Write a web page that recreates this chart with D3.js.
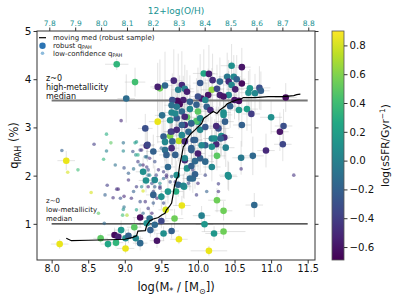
<!DOCTYPE html>
<html>
<head>
<meta charset="utf-8">
<script src="https://cdn.jsdelivr.net/npm/d3@7"></script>
<style>
  body { margin: 0; background: #fff; }
  text { font-family: "DejaVu Sans", sans-serif; }
</style>
</head>
<body>
<div id="c"></div>
<script>
// robust q_PAH points: [logM, qPAH, log sSFR, xerr, yerr]
var robust = [
[8.89,4.31,0.35,0.16,0.12],[9.14,3.94,0.42,0.14,0.30],[9.02,3.60,-0.13,0.12,0.50],[9.28,2.98,-0.30,0.10,0.30],
[9.45,3.12,0.85,0.12,0.45],[9.51,3.25,-0.10,0.10,0.50],[9.48,3.81,0.55,0.10,0.60],[9.45,3.84,-0.55,0.10,0.50],
[9.55,3.87,-0.15,0.10,0.70],[9.30,2.62,-0.50,0.10,0.30],[8.20,2.31,0.85,0.12,0.20],[9.67,3.97,-0.50,0.12,0.65],
[9.78,3.88,-0.50,0.10,0.70],[9.82,3.80,0.00,0.12,0.50],[9.85,3.74,-0.55,0.10,0.45],[9.73,3.78,0.00,0.10,0.75],
[10.08,4.12,0.25,0.15,0.50],[10.15,4.11,-0.55,0.12,0.60],[10.20,3.98,-0.50,0.10,0.55],[10.30,3.95,-0.15,0.12,0.50],
[10.03,3.92,-0.25,0.10,0.60],[10.19,3.78,0.65,0.15,0.45],[10.26,3.80,-0.35,0.10,0.50],[10.30,3.67,-0.55,0.12,0.40],
[10.14,3.67,-0.60,0.10,0.55],[10.05,3.60,-0.60,0.12,0.50],[10.10,3.57,0.05,0.10,0.45],[10.00,3.64,-0.30,0.10,0.60],
[9.89,3.53,-0.20,0.12,0.55],[9.80,3.57,-0.55,0.10,0.50],[9.72,3.55,-0.65,0.10,0.45],[9.75,3.48,-0.65,0.12,0.60],
[9.65,3.57,-0.30,0.10,0.55],[9.71,3.43,-0.05,0.10,0.50],[9.64,3.31,0.05,0.12,0.45],[9.78,3.33,-0.15,0.10,0.60],
[9.89,3.38,0.05,0.12,0.50],[9.98,3.47,-0.20,0.10,0.55],[10.00,3.33,0.50,0.12,0.45],[10.12,3.43,-0.20,0.10,0.50],
[10.17,3.36,-0.50,0.12,0.40],[9.62,3.15,0.10,0.10,0.50],[9.71,3.19,-0.25,0.10,0.45],[9.85,3.21,0.50,0.12,0.55],
[9.91,3.09,0.15,0.10,0.50],[9.82,3.05,-0.50,0.12,0.45],[10.00,3.12,0.10,0.10,0.50],[10.03,2.95,0.05,0.10,0.40],
[10.28,2.98,-0.30,0.15,0.45],[9.64,2.91,-0.50,0.10,0.50],[9.53,2.81,-0.20,0.10,0.45],[9.62,2.82,0.60,0.10,0.40],
[9.74,2.72,0.75,0.10,0.45],[9.65,2.71,-0.20,0.10,0.50],[9.94,2.74,-0.25,0.12,0.40],[10.19,2.77,0.00,0.12,0.45],
[10.32,2.82,0.10,0.12,0.40],[10.25,2.65,-0.50,0.10,0.45],[10.10,2.63,-0.20,0.12,0.40],[10.46,4.28,0.10,0.15,0.45],
[10.60,4.25,-0.60,0.12,0.40],[10.40,4.05,-0.05,0.12,0.50],[10.49,4.05,0.05,0.10,0.45],[10.53,4.00,-0.20,0.12,0.50],
[10.42,3.95,-0.50,0.10,0.45],[10.46,3.88,0.05,0.12,0.50],[10.60,3.91,-0.65,0.10,0.40],[10.51,3.79,-0.55,0.12,0.45],
[10.71,3.81,0.15,0.15,0.40],[10.69,3.72,0.10,0.12,0.45],[10.78,3.71,0.05,0.12,0.40],[10.84,3.82,-0.30,0.15,0.45],
[10.86,3.76,-0.20,0.12,0.40],[10.42,3.67,0.05,0.12,0.50],[10.35,3.64,-0.60,0.10,0.45],[10.56,3.55,-0.65,0.12,0.40],
[11.20,3.62,-0.65,0.15,0.30],[10.44,3.44,-0.20,0.12,0.45],[10.35,3.31,0.10,0.10,0.50],[10.56,3.36,0.15,0.12,0.40],
[10.67,3.38,0.20,0.15,0.45],[10.73,3.28,-0.40,0.12,0.40],[11.00,3.21,0.10,0.15,0.35],[10.60,3.05,-0.20,0.12,0.45],
[11.17,3.03,-0.30,0.12,0.35],[11.12,2.91,-0.60,0.12,0.40],[10.36,2.79,-0.50,0.12,0.45],[11.16,2.65,-0.35,0.12,0.35],
[10.38,2.58,0.00,0.12,0.40],[10.59,2.37,-0.05,0.12,0.35],[10.75,2.41,-0.15,0.15,0.40],[10.93,2.52,-0.50,0.12,0.35],
[10.42,1.98,0.10,0.12,0.30],[10.77,1.39,-0.15,0.12,0.25],[10.35,1.27,0.55,0.12,0.20],[10.35,0.84,0.55,0.30,0.15],
[10.26,2.41,0.50,0.12,0.30],[9.93,1.94,-0.15,0.10,0.30],[9.81,1.77,0.15,0.10,0.25],[9.70,1.67,0.30,0.10,0.30],
[10.26,1.49,0.55,0.12,0.25],[9.78,1.38,0.85,0.12,0.20],[9.56,1.29,0.80,0.10,0.20],[9.68,1.11,0.55,0.12,0.20],
[10.05,1.17,0.00,0.12,0.20],[10.09,0.99,0.15,0.12,0.15],[9.13,0.93,0.50,0.10,0.20],[9.21,1.13,-0.65,0.10,0.20],
[9.34,1.11,-0.10,0.10,0.20],[9.30,1.01,0.10,0.10,0.15],[9.41,0.98,-0.15,0.10,0.20],[9.50,1.06,-0.35,0.10,0.15],
[9.53,0.80,0.10,0.10,0.15],[9.64,0.85,-0.20,0.10,0.15],[9.35,0.87,-0.20,0.10,0.15],[9.44,0.65,-0.60,0.10,0.15],
[9.21,0.60,-0.15,0.10,0.15],[9.15,0.70,0.05,0.10,0.15],[9.74,0.68,0.85,0.12,0.10],[10.15,0.44,0.85,0.25,0.10],
[10.22,0.80,0.15,0.12,0.15],[8.67,0.70,0.50,0.10,0.10],[8.77,0.58,0.25,0.10,0.10],[8.86,0.77,-0.65,0.10,0.15],
[8.88,0.61,0.35,0.10,0.10],[8.91,0.73,-0.55,0.10,0.15],[8.95,0.87,0.15,0.10,0.20],[9.01,0.70,0.10,0.10,0.15],
[9.01,0.49,0.85,0.12,0.10],[8.11,0.58,0.85,0.12,0.10],[9.05,0.75,-0.20,0.10,0.15],[9.29,1.90,0.10,0.10,0.25],
[9.39,1.60,-0.20,0.10,0.25],[9.55,2.53,-0.10,0.10,0.35],[9.91,2.53,-0.20,0.10,0.35],[10.03,2.36,-0.20,0.12,0.30],
[9.96,2.30,-0.15,0.10,0.35],[9.82,2.32,-0.50,0.10,0.30],[10.19,2.60,0.10,0.12,0.35],[9.64,3.46,-0.10,0.10,0.50],
[9.69,3.29,0.05,0.10,0.45],[9.82,3.22,-0.50,0.10,0.45],[9.98,3.13,0.45,0.10,0.40],[9.91,3.08,-0.20,0.10,0.45],
[10.03,3.19,0.05,0.10,0.40],[10.10,3.01,-0.25,0.12,0.40],[9.63,2.91,-0.40,0.10,0.40],[9.78,2.84,0.05,0.10,0.40],
[9.82,2.71,-0.50,0.10,0.40],[10.05,2.63,0.05,0.10,0.35],[9.91,2.57,-0.20,0.10,0.35],[10.00,2.46,-0.55,0.10,0.35],
[10.23,2.77,0.10,0.12,0.40],[10.31,2.77,-0.20,0.12,0.40],[10.35,3.26,0.10,0.12,0.40],[10.25,3.03,-0.50,0.10,0.40],
[9.39,2.50,-0.20,0.10,0.35],[9.31,2.64,-0.35,0.10,0.35],[9.25,2.08,0.10,0.10,0.30],[9.41,1.91,0.05,0.10,0.30],
[9.59,2.18,-0.15,0.10,0.30],[9.85,2.15,0.10,0.10,0.30],[9.91,2.20,-0.20,0.10,0.30],[9.96,2.03,-0.20,0.10,0.30],
[9.89,1.94,-0.15,0.10,0.25],[9.73,1.81,-0.20,0.10,0.25],[9.80,1.79,0.05,0.10,0.25],[9.50,1.56,0.10,0.10,0.25],
[10.41,2.01,0.10,0.12,0.30],[10.50,3.57,-0.60,0.12,0.40],[9.71,2.95,-0.50,0.10,0.45],[9.87,2.91,-0.15,0.10,0.40],
[9.96,2.74,-0.20,0.10,0.40],[10.37,3.12,-0.20,0.12,0.45],[9.71,2.01,0.10,0.10,0.30],[9.59,1.67,0.15,0.10,0.25],
[9.82,2.36,0.05,0.10,0.35],[9.69,2.43,-0.20,0.10,0.35],[10.10,2.29,-0.15,0.12,0.30],[10.19,2.18,0.05,0.12,0.30],
[9.78,3.05,-0.20,0.10,0.45],[9.55,2.70,0.05,0.10,0.40],[9.57,2.43,-0.20,0.10,0.35],[9.64,2.57,-0.50,0.10,0.35]
];

// low-confidence q_PAH points: [logM, qPAH, log sSFR]
var lowconf = [
[8.95,3.14,-0.50],[8.75,2.86,0.30],[8.81,2.68,0.50],[8.98,2.68,-0.10],[8.58,2.65,-0.40],[9.14,2.68,0.20],
[8.14,2.52,-0.20],[8.22,2.07,0.80],[8.36,2.12,0.40],[8.75,2.51,0.00],[8.71,2.34,0.35],[8.87,2.22,-0.10],
[8.98,2.51,0.05],[8.99,2.16,-0.30],[9.05,2.05,-0.20],[9.05,1.91,-0.45],[8.54,1.65,0.80],[8.76,1.80,-0.40],
[8.89,1.72,-0.45],[8.91,1.72,-0.50],[8.73,1.60,-0.20],[8.84,1.54,-0.45],[8.94,1.53,-0.30],[8.99,1.57,-0.50],
[8.99,1.35,-0.10],[8.98,1.30,0.10],[9.03,1.18,0.70],[8.97,1.18,0.40],[8.64,1.22,0.50],[8.72,1.01,-0.15],
[9.93,2.12,-0.40],[10.28,1.83,-0.40],[9.25,1.68,0.80],[10.59,2.14,-0.45],[11.31,2.01,-0.45],[9.11,2.50,-0.30],
[9.15,2.43,0.10],[9.18,2.29,-0.40],[9.12,2.14,-0.10],[9.23,2.53,-0.45],[9.30,2.39,-0.20],[9.25,2.22,-0.50],
[9.32,2.12,-0.30],[9.34,2.01,0.10],[9.39,1.94,-0.45],[9.43,2.01,-0.35],[9.16,1.77,-0.40],[9.12,1.67,-0.20],
[9.09,1.53,-0.45],[9.21,1.46,-0.30],[9.32,1.77,-0.50],[9.41,1.77,-0.20],[9.48,1.77,-0.40],[9.53,1.94,-0.15],
[9.57,1.97,-0.45],[9.62,1.87,-0.30],[9.59,1.63,-0.40],[9.50,1.60,0.05],[9.44,1.53,-0.50],[9.39,1.43,-0.25],
[9.32,1.32,-0.40],[9.25,1.22,-0.15],[9.16,1.29,0.20],[9.28,1.46,-0.45],[9.53,1.43,-0.35],[9.37,1.22,-0.50],
[9.16,2.70,0.15],[9.21,2.53,-0.40],[9.18,2.43,0.30],[9.28,2.39,-0.10],[9.34,2.36,-0.45],[9.41,2.29,-0.30],
[9.21,2.22,-0.15],[9.30,2.18,-0.40],[9.50,2.57,-0.20],[9.46,2.12,-0.45],[9.32,2.01,-0.10],[9.53,2.08,-0.40],
[9.37,1.84,-0.30],[9.48,1.84,0.10],[9.57,2.01,-0.45],[9.64,1.98,-0.20],[9.69,1.87,-0.45],[9.39,1.67,-0.35],
[9.23,1.77,0.05],[9.48,1.74,-0.40],[9.87,1.84,-0.30],[10.00,1.84,-0.45],[10.10,2.01,-0.35],[10.12,1.67,-0.20],
[10.28,1.67,-0.45],[9.98,1.60,-0.40]
];

// moving median of robust sample
var med_x = [8.20,8.27,8.50,8.80,9.00,9.11,9.16,9.18,9.28,9.30,9.34,9.39,9.46,9.50,9.55,9.57,9.61,9.64,9.66,9.68,
  9.71,9.73,9.75,9.78,9.80,9.82,9.85,9.91,9.96,10.00,10.05,10.08,10.13,10.16,10.21,10.26,10.30,10.37,10.40,10.46,
  10.53,10.58,10.62,10.78,10.96,11.15,11.24,11.31,11.35,11.40];
var med_y = [0.70,0.65,0.66,0.67,0.68,0.72,0.75,0.85,0.86,0.97,1.06,1.10,1.13,1.18,1.22,1.29,1.36,1.43,1.60,1.80,
  1.94,1.98,2.22,2.43,2.60,2.63,2.77,2.88,2.95,3.01,3.08,3.19,3.24,3.28,3.33,3.29,3.36,3.44,3.49,3.53,
  3.57,3.58,3.62,3.62,3.64,3.64,3.65,3.66,3.68,3.69];

var high_med = 3.56, low_med = 1.0, ref_span = [8.0, 11.5];

var x_ticks = [8.0,8.5,9.0,9.5,10.0,10.5,11.0,11.5];
var y_ticks = [1,2,3,4,5];
var oh_ticks = [7.8,7.9,8.0,8.1,8.2,8.3,8.4,8.5,8.6,8.7,8.8];
var cb_ticks = [-0.6,-0.4,-0.2,0.0,0.2,0.4,0.6,0.8];

var width = 399, height = 302;
var left = 37, right = 315, top_ = 31, bottom = 260;
var teal = "#1a9393";

var svg = d3.select("#c").append("svg")
  .attr("width", width).attr("height", height);

var x_scale = d3.scaleLinear().domain([7.8, 11.6]).range([left, right]);
var y_scale = d3.scaleLinear().domain([0.25, 5]).range([bottom, top_]);
var oh_scale = d3.scaleLinear().domain([7.7525, 8.826]).range([left, right]);
var col = d3.scaleSequential(d3.interpolateViridis).domain([-0.69, 0.9]);
var cb_scale = d3.scaleLinear().domain([-0.69, 0.9]).range([bottom, top_]);

svg.append("clipPath").attr("id", "clip")
  .append("rect").attr("x", left).attr("y", top_).attr("width", right - left).attr("height", bottom - top_);

var plot = svg.append("g").attr("clip-path", "url(#clip)");

// error bars
var eb = plot.append("g").attr("stroke", "#b8b8b8").attr("stroke-opacity", 0.4).attr("stroke-width", 1);
robust.forEach(function(d) {
  eb.append("line").attr("x1", x_scale(d[0])).attr("x2", x_scale(d[0]))
    .attr("y1", y_scale(d[1] - d[4])).attr("y2", y_scale(d[1] + d[4]));
  eb.append("line").attr("x1", x_scale(d[0] - d[3])).attr("x2", x_scale(d[0] + d[3]))
    .attr("y1", y_scale(d[1])).attr("y2", y_scale(d[1]));
});

// z~0 reference medians
plot.append("line")
  .attr("x1", x_scale(ref_span[0])).attr("x2", x_scale(ref_span[1]))
  .attr("y1", y_scale(high_med)).attr("y2", y_scale(high_med))
  .attr("stroke", "#777").attr("stroke-width", 2);
plot.append("line")
  .attr("x1", x_scale(ref_span[0])).attr("x2", x_scale(ref_span[1]))
  .attr("y1", y_scale(low_med)).attr("y2", y_scale(low_med))
  .attr("stroke", "#222").attr("stroke-width", 1.2);

plot.append("g").selectAll("circle")
  .data(lowconf).enter().append("circle")
  .attr("cx", function(d) { return x_scale(d[0]); })
  .attr("cy", function(d) { return y_scale(d[1]); })
  .attr("r", 1.8)
  .attr("fill", function(d) { return col(d[2]); })
  .attr("fill-opacity", 0.6);

plot.append("g").selectAll("circle")
  .data(robust).enter().append("circle")
  .attr("cx", function(d) { return x_scale(d[0]); })
  .attr("cy", function(d) { return y_scale(d[1]); })
  .attr("r", 3.3)
  .attr("fill", function(d) { return col(d[2]); });

var med_line = d3.line()
  .x(function(d, i) { return x_scale(med_x[i]); })
  .y(function(d, i) { return y_scale(med_y[i]); });
plot.append("path").datum(med_x)
  .attr("d", med_line).attr("fill", "none")
  .attr("stroke", "#000").attr("stroke-width", 1.2);

// annotations
var ann_hi = svg.append("text").attr("font-size", "8px").attr("fill", "#111");
["z~0", "high-metallicity", "median"].forEach(function(s, i) {
  ann_hi.append("tspan").attr("x", 46).attr("y", 80.5 + i * 9.3).text(s);
});
var ann_lo = svg.append("text").attr("font-size", "7px").attr("fill", "#111");
["z~0", "low-metallicity", "median"].forEach(function(s, i) {
  ann_lo.append("tspan").attr("x", 46).attr("y", 203 + i * 9).text(s);
});

// legend
var lg = svg.append("g").attr("font-size", "7px").attr("fill", "#222");
lg.append("line").attr("x1", 39).attr("x2", 46).attr("y1", 37.7).attr("y2", 37.7)
  .attr("stroke", "#000").attr("stroke-width", 1.2);
lg.append("text").attr("x", 53).attr("y", 40.3).text("moving med (robust sample)");
lg.append("circle").attr("cx", 42.5).attr("cy", 45.8).attr("r", 3.2).attr("fill", "#2b74b3");
var t2 = lg.append("text").attr("x", 53).attr("y", 48);
t2.append("tspan").text("robust q");
t2.append("tspan").attr("font-size", "5px").attr("dy", 1.2).text("PAH");
lg.append("circle").attr("cx", 42.5).attr("cy", 53.3).attr("r", 1.8).attr("fill", "#8dbbdc");
var t3 = lg.append("text").attr("x", 53).attr("y", 55.6);
t3.append("tspan").text("low-confidence q");
t3.append("tspan").attr("font-size", "5px").attr("dy", 1.2).text("PAH");

// axes
var fmt1 = d3.format(".1f");
var xa = svg.append("g").attr("transform", "translate(0," + bottom + ")")
  .call(d3.axisBottom(x_scale).tickValues(x_ticks).tickSize(3.5).tickPadding(2).tickFormat(fmt1));
var ya = svg.append("g").attr("transform", "translate(" + left + ",0)")
  .call(d3.axisLeft(y_scale).tickValues(y_ticks).tickSize(3.5).tickPadding(2).tickFormat(d3.format("d")));
var ra = svg.append("g").attr("transform", "translate(" + right + ",0)")
  .call(d3.axisRight(y_scale).tickValues(y_ticks).tickSize(3.5).tickFormat(""));
var ta = svg.append("g").attr("transform", "translate(0," + top_ + ")")
  .call(d3.axisTop(oh_scale).tickValues(oh_ticks).tickSize(3.5).tickPadding(2).tickFormat(fmt1));

[xa, ya, ra, ta].forEach(function(a) {
  a.select(".domain").remove();
  a.selectAll(".tick line").attr("stroke", "#333");
  a.selectAll("text").attr("font-family", "DejaVu Sans").attr("fill", "#111");
});
xa.selectAll("text").attr("font-size", "9.6px");
ya.selectAll("text").attr("font-size", "10.5px");
ta.selectAll("text").attr("font-size", "7.5px").attr("fill", teal);

svg.append("rect").attr("x", left).attr("y", top_)
  .attr("width", right - left).attr("height", bottom - top_)
  .attr("fill", "none").attr("stroke", "#333").attr("stroke-width", 1);

svg.append("text").attr("x", (left + right) / 2).attr("y", 14)
  .attr("text-anchor", "middle").attr("font-size", "9px").attr("fill", teal)
  .text("12+log(O/H)");

var xl = svg.append("text").attr("x", (left + right) / 2).attr("y", 291)
  .attr("text-anchor", "middle").attr("font-size", "11.5px").attr("fill", "#111");
xl.append("tspan").text("log(M");
xl.append("tspan").attr("font-size", "8px").attr("dy", 2.5).text("*");
xl.append("tspan").attr("dy", -2.5).text(" / [M");
xl.append("tspan").attr("font-size", "8px").attr("dy", 2.5).text("⊙");
xl.append("tspan").attr("dy", -2.5).text("])");

var yl = svg.append("text").attr("transform", "translate(18," + ((top_ + bottom) / 2) + ") rotate(-90)")
  .attr("text-anchor", "middle").attr("font-size", "11.5px").attr("fill", "#111");
yl.append("tspan").text("q");
yl.append("tspan").attr("font-size", "8px").attr("dy", 2.5).text("PAH");
yl.append("tspan").attr("dy", -2.5).text(" (%)");

// colorbar
var cb_x = 332, cb_w = 12;
var grad = svg.append("defs").append("linearGradient").attr("id", "vir")
  .attr("x1", 0).attr("y1", 1).attr("x2", 0).attr("y2", 0);
d3.range(0, 1.0001, 0.1).forEach(function(t) {
  grad.append("stop").attr("offset", t).attr("stop-color", d3.interpolateViridis(t));
});
svg.append("rect").attr("x", cb_x).attr("y", top_).attr("width", cb_w).attr("height", bottom - top_)
  .attr("fill", "url(#vir)").attr("stroke", "#555").attr("stroke-width", 0.8);
var ca = svg.append("g").attr("transform", "translate(" + (cb_x + cb_w) + ",0)")
  .call(d3.axisRight(cb_scale).tickValues(cb_ticks).tickSize(3.5).tickPadding(2).tickFormat(fmt1));
ca.select(".domain").remove();
ca.selectAll(".tick line").attr("stroke", "#333");
ca.selectAll("text").attr("font-family", "DejaVu Sans").attr("font-size", "10.2px").attr("fill", "#111");

var cl = svg.append("text").attr("transform", "translate(389," + ((top_ + bottom) / 2) + ") rotate(-90)")
  .attr("text-anchor", "middle").attr("font-size", "10.5px").attr("fill", "#111");
cl.append("tspan").text("log(sSFR/Gyr");
cl.append("tspan").attr("font-size", "7.5px").attr("dy", -4).text("−1");
cl.append("tspan").attr("dy", 4).text(")");
</script>
</body>
</html>
